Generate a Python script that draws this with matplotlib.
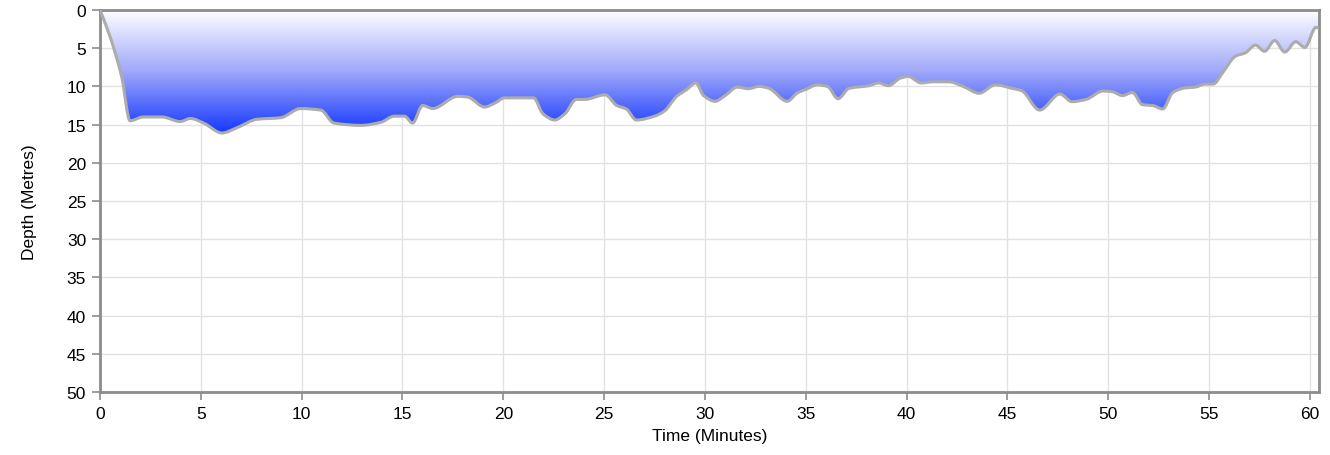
import numpy as np
import matplotlib
matplotlib.use("Agg")
import matplotlib.pyplot as plt
from matplotlib.colors import LinearSegmentedColormap
from matplotlib.path import Path
from matplotlib.patches import PathPatch

plt.rcParams['font.family'] = ['Liberation Sans', 'DejaVu Sans']

# dive profile (minutes, metres)
time_min = [0.0, 0.5, 1.08, 1.49, 2.15, 3.07, 3.98, 4.48, 5.14, 6.05, 6.8, 7.8, 8.96,
            9.95, 10.95, 11.6, 12.94, 13.93, 14.59, 15.1, 15.5, 16.0, 16.5, 17.74,
            18.24, 19.07, 19.57, 20.07, 21.5, 21.97, 22.55, 23.05, 23.63, 24.05,
            25.04, 25.63, 26.1, 26.6, 27.5, 28.0, 28.6, 29.1, 29.55, 29.93, 30.5,
            31.0, 31.6, 32.17, 32.67, 33.17, 34.08, 34.58, 35.0, 35.57, 36.07, 36.6,
            37.15, 38.14, 38.6, 39.1, 39.7, 40.1, 40.5, 40.7, 41.3, 42.1, 42.8,
            43.6, 44.4, 45.3, 45.7, 46.6, 47.6, 48.2, 48.9, 49.75, 50.2, 50.7, 51.2,
            51.7, 52.2, 52.7, 53.2, 53.8, 54.3, 54.8, 55.2, 55.7, 56.3, 56.8, 57.3,
            57.75, 58.25, 58.75, 59.3, 59.75, 60.3, 60.5]
depth_m = [0.0, 3.5, 8.8, 14.5, 14.0, 14.0, 14.6, 14.2, 14.8, 16.1, 15.4, 14.3, 14.1,
           12.9, 13.1, 14.8, 15.1, 14.7, 13.9, 13.9, 14.8, 12.5, 12.9, 11.3,
           11.4, 12.7, 12.2, 11.5, 11.5, 13.6, 14.4, 13.6, 11.7, 11.7,
           11.1, 12.5, 12.96, 14.4, 13.9, 13.2, 11.3, 10.4, 9.55, 11.2, 11.95,
           11.2, 10.1, 10.3, 9.99, 10.25, 11.95, 10.86, 10.4, 9.8, 10.0, 11.6,
           10.25, 9.9, 9.55, 9.9, 8.9, 8.7, 9.3, 9.55, 9.4, 9.4, 10.0,
           10.9, 9.8, 10.3, 10.55, 13.1, 11.0, 12.0, 11.7, 10.6, 10.7, 11.2, 10.8,
           12.4, 12.5, 12.96, 10.8, 10.2, 10.1, 9.7, 9.7, 8.1, 6.06, 5.6, 4.6,
           5.4, 4.0, 5.5, 4.15, 4.9, 2.27, 2.5]

x_ticks = list(range(0, 61, 5))
y_ticks = list(range(0, 51, 5))
x_max = 60.45


# monotone-x cubic curve through the points, as bezier path segments
def monotone_path(xs, ys):
    xs = np.asarray(xs, float)
    ys = np.asarray(ys, float)
    h = np.diff(xs)
    s = np.diff(ys) / h
    t = np.zeros_like(xs)
    t[0], t[-1] = s[0], s[-1]
    for i in range(1, len(xs) - 1):
        if s[i - 1] * s[i] <= 0:
            t[i] = 0
        else:
            t[i] = 2 / (1 / s[i - 1] + 1 / s[i])
    verts = [(xs[0], ys[0])]
    codes = [Path.MOVETO]
    for i in range(len(h)):
        verts += [(xs[i] + h[i] / 3, ys[i] + t[i] * h[i] / 3),
                  (xs[i + 1] - h[i] / 3, ys[i + 1] - t[i + 1] * h[i] / 3),
                  (xs[i + 1], ys[i + 1])]
        codes += [Path.CURVE4] * 3
    return verts, codes


fig = plt.figure(figsize=(13.3, 4.56), dpi=100)
ax = fig.add_axes([100 / 1330, 1 - 393 / 456, 1219 / 1330, 382 / 456])

ax.set_xlim(0, x_max)
ax.set_ylim(50, 0)

verts, codes = monotone_path(time_min, depth_m)
area = Path(verts + [(time_min[-1], 0), (0, 0), (0, 0)],
            codes + [Path.LINETO, Path.LINETO, Path.CLOSEPOLY])

# gradient fill clipped to the area under the profile
cmap = LinearSegmentedColormap.from_list('dive', ['#ffffff', '#a0a8fa', '#1538ff'])
grad = np.linspace(0, 1, 256).reshape(-1, 1)
img = ax.imshow(grad, cmap=cmap, aspect='auto', extent=[0, x_max, max(depth_m), 0],
                origin='upper', zorder=2)
img.set_clip_path(area, transform=ax.transData)

ax.add_patch(PathPatch(Path(verts, codes), facecolor='none', edgecolor='#acacac',
                       lw=2.2, joinstyle='round', zorder=3))

ax.set_xticks(x_ticks)
ax.set_yticks(y_ticks)
ax.grid(True, color='#e2e2e2', lw=1)
ax.set_axisbelow(True)
for s in ax.spines.values():
    s.set_color('#8c8c8c')
    s.set_linewidth(2)
ax.tick_params(colors='#8c8c8c', labelcolor='black', length=6, width=1.2,
               labelsize=12.5, pad=4)

ax.set_xlabel('Time (Minutes)', fontsize=12.5, labelpad=5)
ax.set_ylabel('Depth (Metres)', fontsize=12.5, labelpad=21)

fig.savefig('out.png', dpi=100)
